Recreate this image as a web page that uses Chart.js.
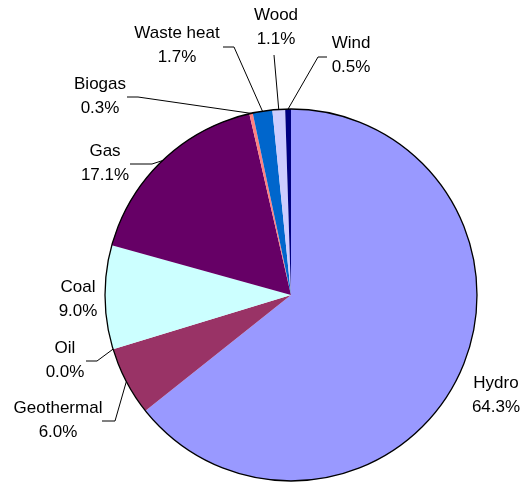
<!DOCTYPE html>
<html>
<head>
<meta charset="utf-8">
<script src="https://cdn.jsdelivr.net/npm/chart.js@4"></script>
<style>
  html, body { margin: 0; padding: 0; background: #fff; }
  canvas { display: block; }
</style>
</head>
<body>
<canvas id="pieChart" width="524" height="487"></canvas>
<script>
// Electricity generation by source (share, %)
const categories = ["Hydro", "Geothermal", "Oil", "Coal", "Gas", "Biogas", "Waste heat", "Wood", "Wind"];
const shares = [64.3, 6.0, 0.0, 9.0, 17.1, 0.3, 1.7, 1.1, 0.5];
const sliceColors = ["#9999FF", "#993366", "#FFFFC0", "#CCFFFF", "#660066", "#FF8080", "#0066CC", "#CCCCFF", "#000080"];

// where each label sits and how its leader line bends (canvas px)
const labelLayout = {
  "Hydro":      { text: [496, 383] },
  "Geothermal": { text: [58, 408],  elbow: [115, 421], end: [102, 421] },
  "Oil":        { text: [65, 348],  elbow: [97, 361],  end: [86, 361] },
  "Coal":       { text: [78, 287] },
  "Gas":        { text: [105, 151], elbow: [152, 164], end: [130, 164] },
  "Biogas":     { text: [100, 84],  elbow: [138, 97],  end: [127, 97] },
  "Waste heat": { text: [177, 33],  elbow: [234, 47],  end: [223, 47] },
  "Wood":       { text: [276, 15],  elbow: [274, 55] },
  "Wind":       { text: [351, 43],  elbow: [318, 57],  end: [327, 57] }
};

const pieLabels = {
  id: "pieLabels",
  afterDatasetsDraw(chart) {
    const ctx = chart.ctx;
    const meta = chart.getDatasetMeta(0);
    const first = meta.data[0];

    // outer rim
    ctx.save();
    ctx.beginPath();
    ctx.arc(first.x, first.y, first.outerRadius, 0, Math.PI * 2);
    ctx.strokeStyle = "#000";
    ctx.lineWidth = 1.3;
    ctx.stroke();

    ctx.font = "17px 'Liberation Sans', Arial, sans-serif";
    ctx.fillStyle = "#000";
    ctx.textAlign = "center";
    ctx.textBaseline = "middle";

    meta.data.forEach((arc, i) => {
      const name = categories[i];
      const lay = labelLayout[name];
      if (!lay) return;

      if (lay.elbow) {
        const mid = (arc.startAngle + arc.endAngle) / 2;
        const ax = arc.x + Math.cos(mid) * arc.outerRadius;
        const ay = arc.y + Math.sin(mid) * arc.outerRadius;
        ctx.beginPath();
        ctx.moveTo(ax, ay);
        ctx.lineTo(lay.elbow[0], lay.elbow[1]);
        if (lay.end) ctx.lineTo(lay.end[0], lay.end[1]);
        ctx.lineWidth = 1;
        ctx.strokeStyle = "#000";
        ctx.stroke();
      }

      ctx.fillText(name, lay.text[0], lay.text[1]);
      ctx.fillText(shares[i].toFixed(1) + "%", lay.text[0], lay.text[1] + 24);
    });
    ctx.restore();
  }
};

new Chart(document.getElementById("pieChart"), {
  type: "pie",
  data: {
    labels: categories,
    datasets: [{
      data: shares,
      backgroundColor: sliceColors,
      borderWidth: 0
    }]
  },
  options: {
    responsive: false,
    animation: false,
    layout: { padding: { left: 105, right: 47, top: 109, bottom: 6 } },
    plugins: {
      legend: { display: false },
      tooltip: { enabled: false }
    }
  },
  plugins: [pieLabels]
});
</script>
</body>
</html>
